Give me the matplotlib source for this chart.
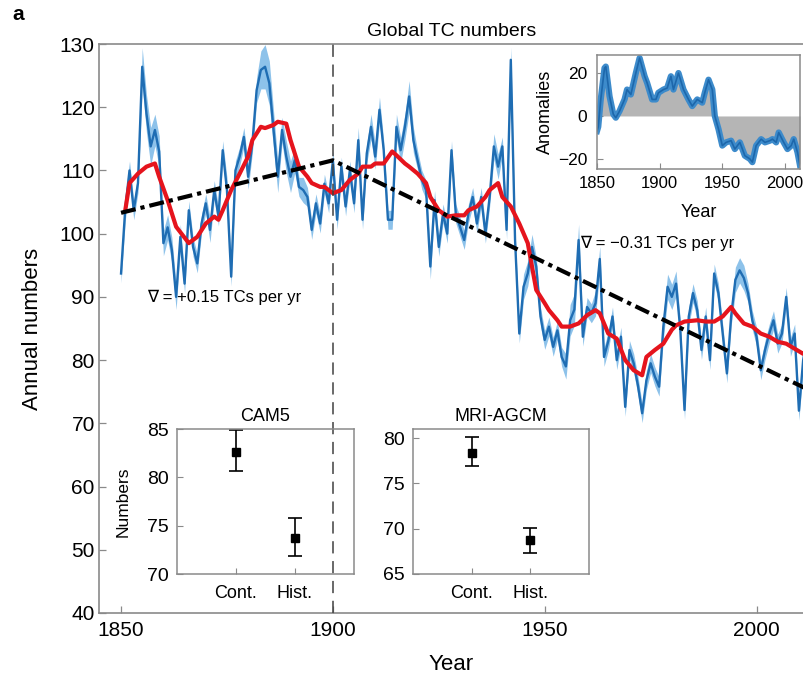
import numpy as np
import matplotlib
matplotlib.use("Agg")
import matplotlib.pyplot as plt

plt.rcParams["font.family"] = ["Liberation Sans", "DejaVu Sans"]

# annual global TC numbers, 1850-2012 (ensemble mean)
years = np.arange(1850, 2013)
tc_annual = [
    93.7, 104, 110, 103.7, 108, 126.4, 119, 113.8, 116.4, 113,
    98.5, 101, 97.4, 90, 99.5, 92.1, 103.7, 97.9, 95.3, 101.6,
    104.8, 100.6, 106.9, 102.7, 113.2, 106.9, 93.2, 110, 112.2, 115.3,
    109, 114.3, 122.7, 125.9, 126.4, 123.8, 116.4, 109, 116.4, 112.2,
    109, 111.6, 107.4, 106.9, 105.8, 100.6, 104.8, 101.6, 107.9, 104.8,
    111.6, 102.2, 110.6, 104.3, 110, 104.8, 114.8, 102.2, 112.7, 116.9,
    112.2, 119.6, 113.2, 102.2, 102.2, 116.9, 113.2, 116.9, 121.7, 114.8,
    111.6, 108.5, 106.9, 94.8, 105.3, 97.9, 103.2, 100, 113.2, 103.2,
    101.1, 99, 103.2, 105.8, 101.6, 105.8, 100, 105.8, 113.8, 110.6,
    113.8, 100.6, 127.5, 99, 84.2, 91.6, 93.7, 97.9, 94.8, 86.9,
    83.2, 85.3, 82.1, 84.7, 80.5, 79, 86.3, 88, 99, 83.7,
    88.4, 87.4, 89, 96, 80.5, 83, 86.9, 80, 83.7, 72.6,
    81.6, 79.5, 76, 71.6, 76.8, 79.5, 77.4, 75.8, 85.3, 91.6,
    90, 92.1, 84.8, 72.1, 86.9, 90.6, 87.9, 81.6, 86.9, 80,
    93.7, 90.6, 84.2, 77.9, 86.9, 92.7, 94.2, 93, 90.6, 86.3,
    83.7, 78.4, 81.6, 84.2, 86.3, 82.6, 84.2, 90, 82.1, 84.2,
    72, 80, 84,
]
# half width of the light blue ensemble band
tc_spread = [
    1.5, 2, 1.5, 1.5, 1.5, 3, 3, 3, 2.5, 2.5,
    2, 2, 2, 2, 2, 1.5, 1.5, 1.5, 1.5, 1.5,
    1.5, 2, 1.5, 1.5, 1.5, 2, 1.5, 1.5, 1.5, 1.5,
    2, 1.5, 2, 3, 3.5, 3.5, 3, 2.5, 2, 2.5,
    2.5, 2, 1.5, 2, 1.5, 1.5, 1.5, 1.5, 1.5, 1.5,
    1.5, 1.5, 1.5, 1.5, 1.5, 1.5, 2, 1.5, 1.5, 2,
    2, 2, 1.5, 1.5, 1.5, 2, 2, 2, 2.5, 2,
    1.5, 1.5, 1.5, 2, 1.5, 1.5, 1.5, 1.5, 1.5, 1.5,
    1.5, 1.5, 1.5, 1.5, 1.5, 1.5, 1.5, 1.5, 2, 2,
    1.5, 1.5, 2, 1.5, 1.5, 2, 2, 2, 1.5, 1.5,
    1.5, 1.5, 1.5, 1.5, 1.5, 2, 2.5, 2.5, 2.5, 1.5,
    1.5, 1.5, 2, 2, 1.5, 1.5, 1.5, 1.5, 1.5, 1.5,
    1.5, 1.5, 1.5, 1.5, 1.5, 1.5, 1.5, 1.5, 2, 2,
    2, 2, 1.5, 1.5, 1.5, 1.5, 1.5, 1.5, 1.5, 1.5,
    1.5, 1.5, 1.5, 1.5, 1.5, 2, 2, 2, 1.5, 1.5,
    1.5, 1.5, 1.5, 1.5, 1.5, 1.5, 1.5, 1.5, 1.5, 1.5,
    1.5, 1.5, 1.5,
]

# smoothed series (red)
smooth_years = [1851, 1852, 1854, 1856, 1858, 1859, 1861, 1863, 1866, 1868,
                1870, 1872, 1873, 1874, 1876, 1878, 1880, 1881, 1883, 1884,
                1886, 1887, 1889, 1890, 1892, 1894, 1895, 1897, 1898, 1900,
                1902, 1904, 1906, 1907, 1909, 1910, 1912, 1914, 1915, 1917,
                1918, 1920, 1922, 1923, 1925, 1927, 1929, 1931, 1932, 1934,
                1936, 1937, 1939, 1940, 1942, 1944, 1946, 1947, 1948, 1950,
                1951, 1953, 1954, 1956, 1958, 1960, 1962, 1963, 1965, 1967,
                1969, 1971, 1973, 1974, 1976, 1978, 1980, 1981, 1983, 1986,
                1988, 1990, 1992, 1994, 1995, 1997, 1999, 2001, 2003, 2005,
                2007, 2009, 2011, 2012]
smooth_vals = [103.7, 108, 109.5, 110.6, 111.1, 109, 105.3, 101.1, 98.5, 99.5,
               101.6, 102.7, 102.2, 103.7, 106.9, 109.5, 112.2, 114.8, 116.9, 116.7,
               117.2, 117.7, 117.4, 114.8, 110.6, 109, 108, 107.4, 107.4, 106.4,
               106.9, 108.5, 109.5, 110.6, 110.6, 111.1, 111.1, 113, 112.4, 111.1,
               110.6, 109.5, 108, 105.8, 103.7, 102.7, 102.9, 102.9, 103.7, 104.3,
               105.8, 106.9, 108, 105.8, 104.3, 101.6, 98.5, 94.8, 91.1, 89,
               87.9, 86.3, 85.3, 85.3, 85.8, 87.1, 87.9, 87.4, 84.2, 83.4,
               80, 78.4, 77.6, 80.5, 81.6, 82.6, 84.8, 85.5, 86.1, 86.3,
               86.1, 86.1, 86.9, 88.4, 87.4, 85.8, 85.3, 84.2, 83.7, 82.9,
               82.6, 81.8, 81.0, 81.5]

# piecewise linear trend
trend_years = [1850, 1900, 2012]
trend_vals = [103.3, 111.6, 75.4]

# inset: anomalies
anom_years = [1850, 1851, 1853, 1856, 1857, 1860, 1863, 1865, 1868, 1872,
              1874, 1877, 1881, 1884, 1888, 1890, 1894, 1897, 1899, 1903,
              1906, 1909, 1911, 1915, 1919, 1923, 1926, 1930, 1934, 1936,
              1939, 1942, 1944, 1947, 1950, 1953, 1957, 1960, 1964, 1968,
              1972, 1974, 1977, 1981, 1984, 1988, 1990, 1993, 1995, 1999,
              2002, 2005, 2007, 2010, 2012]
anom_vals = [-7, -5, 7.7, 22.3, 23, 9.2, 0.8, -0.8, 2.3, 7.7,
             12.3, 10, 20, 27, 18.5, 15.4, 7.7, 7.7, 10.8, 12.3,
             13, 18.5, 12.3, 20, 12.3, 7.7, 4.6, 7.7, 6.2, 10.8,
             16.9, 12.3, 0, -6.2, -13.8, -12.3, -11.5, -15.4, -12.3, -18.5,
             -20, -21.5, -13.8, -10.8, -12.3, -11.5, -10.8, -12.3, -7.7, -12.3,
             -15.4, -13.8, -10.8, -16.9, -23]

# insets: model experiments
exps = ["Cont.", "Hist."]
cam5_mean = [82.6, 73.7]
cam5_lo = [80.7, 71.9]
cam5_hi = [84.9, 75.8]
mri_mean = [78.4, 68.7]
mri_lo = [76.9, 67.3]
mri_hi = [80.1, 70.1]

spine_col = "#8a8a8a"

fig = plt.figure(figsize=(8.04, 6.76), dpi=100)

# ---- main panel
ax = fig.add_axes([99 / 804, 63 / 676, 705 / 804, 569 / 676])
tc = np.array(tc_annual)
sp = np.array(tc_spread)
ax.fill_between(years, tc - sp, tc + sp, color="#8dc2ea", lw=0, zorder=1)
ax.plot(years, tc, color="#1f6db3", lw=1.7, zorder=2)
ax.plot(smooth_years, smooth_vals, color="#e5141d", lw=3, zorder=3)
ax.plot(trend_years, trend_vals, color="black", lw=3,
        dashes=(3.6, 1.2, 1, 1.2), zorder=4)
ax.axvline(1900, color="#404040", lw=1.1, dashes=(8, 5), zorder=5)

ax.set_xlim(1844.8, 2011.2)
ax.set_ylim(40, 130)
ax.set_xticks([1850, 1900, 1950, 2000])
ax.set_yticks(np.arange(40, 131, 10))
ax.tick_params(direction="in", length=5, width=0.9, color=spine_col,
               labelsize=15, pad=3)
ax.tick_params(axis="x", pad=6)
for s in ["left", "bottom", "top"]:
    ax.spines[s].set_color(spine_col)
    ax.spines[s].set_linewidth(1.2)
ax.spines["right"].set_visible(False)

ax.set_xlabel("Year", fontsize=16)
ax.xaxis.set_label_coords(0.5, -0.091)
ax.xaxis.label.set_va("center")
ax.set_ylabel("Annual numbers", fontsize=16)
ax.yaxis.set_label_coords(-0.094, 0.5)
ax.yaxis.label.set_va("center")
ax.set_title("Global TC numbers", fontsize=14, pad=6)

ax.text(1856.2, 90, "\u2207 = +0.15 TCs per yr", fontsize=12, va="center")
ax.text(1958.3, 98.5, "\u2207 = \u22120.31 TCs per yr", fontsize=12, va="center")

fig.text(12 / 804, 1 - 14 / 676, "a", fontsize=15, fontweight="bold", va="center")

# ---- anomaly inset
axa = fig.add_axes([597 / 804, 1 - 169 / 676, 203 / 804, 114 / 676])
axa.fill_between(anom_years, 0, anom_vals, color="#b5b5b5", lw=0)
axa.plot(anom_years, anom_vals, color="#3d8bcb", lw=4.5)
axa.plot(anom_years, anom_vals, color="#1d67ab", lw=1.2)
axa.set_xlim(1850, 2012)
axa.set_ylim(-24.7, 28.4)
axa.set_xticks([1850, 1900, 1950, 2000])
axa.set_yticks([-20, 0, 20])
axa.tick_params(direction="in", length=4, color=spine_col, labelsize=12.5)
axa.tick_params(axis="x", pad=5, labelsize=12)
axa.tick_params(axis="y", pad=7)
for s in axa.spines.values():
    s.set_color(spine_col)
    s.set_linewidth(1.1)
axa.set_xlabel("Year", fontsize=13)
axa.xaxis.set_label_coords(0.5, -0.38)
axa.xaxis.label.set_va("center")
axa.set_ylabel("Anomalies", fontsize=13)
axa.yaxis.set_label_coords(-0.254, 0.5)
axa.yaxis.label.set_va("center")

# ---- model insets
def model_inset(rect, title, mean, lo, hi, ylim, yticks, ylabel=None):
    a = fig.add_axes(rect, facecolor="none")
    pos = np.arange(1, len(exps) + 1)
    err = [np.array(mean) - np.array(lo), np.array(hi) - np.array(mean)]
    a.errorbar(pos, mean, yerr=err, fmt="s", color="black", ms=6,
               elinewidth=1.2, capsize=5, capthick=1.2)
    a.set_xlim(0, 3)
    a.set_ylim(*ylim)
    a.set_xticks(pos)
    a.set_xticklabels(exps)
    a.set_yticks(yticks)
    a.tick_params(direction="in", length=4, color=spine_col, labelsize=14)
    a.tick_params(axis="x", labelsize=13, pad=8)
    a.tick_params(axis="y", pad=6)
    for s in a.spines.values():
        s.set_color(spine_col)
        s.set_linewidth(1.1)
    a.set_title(title, fontsize=13, pad=6)
    if ylabel:
        a.set_ylabel(ylabel, fontsize=12.5)
        a.yaxis.set_label_coords(-0.305, 0.5)
        a.yaxis.label.set_va("center")
    return a

model_inset([177 / 804, 102 / 676, 177 / 804, 145 / 676], "CAM5",
            cam5_mean, cam5_lo, cam5_hi, (70, 85), [70, 75, 80, 85], "Numbers")
model_inset([413 / 804, 102 / 676, 176 / 804, 145 / 676], "MRI-AGCM",
            mri_mean, mri_lo, mri_hi, (65, 81), [65, 70, 75, 80])

fig.savefig("out.png", dpi=100)
